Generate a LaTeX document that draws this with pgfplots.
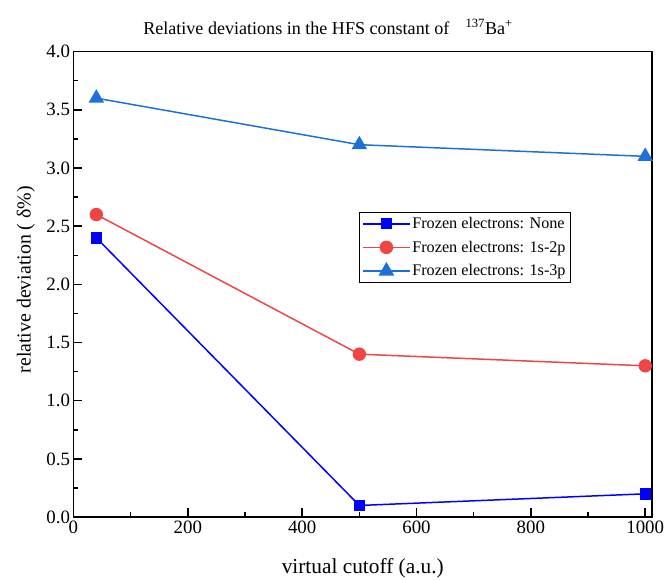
\documentclass[border=0pt]{standalone}
\usepackage{fontspec}
\setmainfont{Liberation Serif}
\usepackage{pgfplots}
\pgfplotsset{compat=1.18}
\definecolor{cBlue}{HTML}{0000FF}
\definecolor{cRed}{HTML}{F04545}
\definecolor{cLBlue}{HTML}{1E6FDA}
\begin{document}
\begin{tikzpicture}
\begin{axis}[
  scale only axis,
  width=583pt, height=469pt,
  xmin=0, xmax=1012, ymin=0, ymax=4,
  xtick={0,200,400,600,800,1000},
  ytick={0,0.5,...,4.0},
  minor x tick num=1, minor y tick num=1,
  xtick pos=bottom, ytick pos=left,
  tick align=inside,
  major tick length=9pt, minor tick length=5pt,
  every tick/.style={black, line width=1.5pt},
  axis line style={line width=1.8pt},
  /pgf/number format/assume math mode=true,
  yticklabel style={/pgf/number format/.cd, fixed, fixed zerofill, precision=1},
  xticklabel style={/pgf/number format/.cd, fixed, 1000 sep={}},
  ticklabel style={font=\fontsize{19}{22}\selectfont},
  xlabel={virtual cutoff (a.u.)},
  ylabel={relative deviation ( δ\%)},
  xlabel style={font=\fontsize{21.5}{24}\selectfont, at={(axis description cs:0.5,-0.122)}, anchor=base},
  ylabel style={font=\fontsize{20}{24}\selectfont, at={(axis description cs:-0.074,0.51)}, anchor=base},
  title={Relative deviations in the HFS constant of\hspace{0.9em}\textsuperscript{137}Ba\textsuperscript{+}},
  title style={font=\fontsize{18.2}{22}\selectfont, yshift=8pt, xshift=-35pt},
  legend style={at={(0.494,0.655)}, anchor=north west, draw=black,
    font=\fontsize{16.3}{19}\selectfont, row sep=7pt, inner sep=3pt},
  legend cell align=left,
  legend image code/.code={\draw[line width=1.6pt, mark repeat=2, mark phase=2] plot coordinates {(0cm,0cm) (0.82cm,0cm) (1.64cm,0cm)};},
]
\addplot[cBlue, line width=1.5pt, mark=square*, mark size=5pt, mark options={solid}] coordinates {(40,2.4) (500,0.1) (1000,0.2)};
\addlegendentry{Frozen electrons: None}
\addplot[cRed, line width=1.5pt, mark=*, mark size=6pt] coordinates {(40,2.6) (500,1.4) (1000,1.3)};
\addlegendentry{Frozen electrons: 1s-2p}
\addplot[cLBlue, line width=1.5pt, mark=triangle*, mark size=7.5pt] coordinates {(40,3.6) (500,3.2) (1000,3.1)};
\addlegendentry{Frozen electrons: 1s-3p}
\end{axis}
\path (current axis.south west) ++(-74pt,-63pt) coordinate (bl);
\path (current axis.north east) ++(13pt,52pt) coordinate (tr);
\pgfresetboundingbox
\useasboundingbox (bl) rectangle (tr);
\end{tikzpicture}
\end{document}
